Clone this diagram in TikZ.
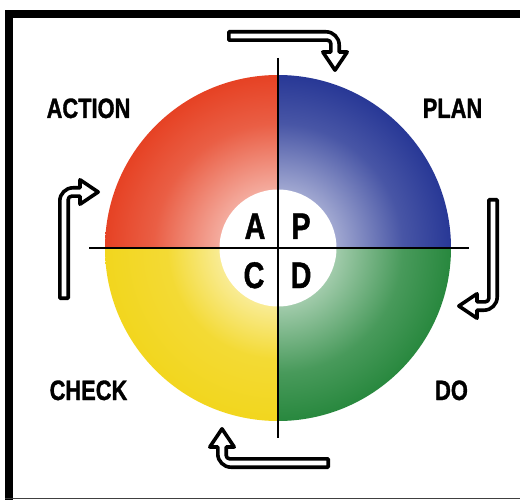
\documentclass[tikz,border=0pt]{standalone}
\usepackage{fontspec}
\newfontfamily\labfont{Liberation Sans Bold}[FakeStretch=0.78,FakeBold=1.2]
\definecolor{redc}{RGB}{230,66,36}
\definecolor{bluec}{RGB}{40,56,150}
\definecolor{greenc}{RGB}{40,136,62}
\definecolor{yellowc}{RGB}{242,214,30}
\colorlet{redA}{redc!8!white}\colorlet{redB}{redc!42!white}\colorlet{redC}{redc!85!white}
\colorlet{blueA}{bluec!8!white}\colorlet{blueB}{bluec!42!white}\colorlet{blueC}{bluec!85!white}
\colorlet{greenA}{greenc!8!white}\colorlet{greenB}{greenc!42!white}\colorlet{greenC}{greenc!85!white}
\colorlet{yellowA}{yellowc!8!white}\colorlet{yellowB}{yellowc!45!white}\colorlet{yellowC}{yellowc!90!white}
\pgfdeclareradialshading{shred}{\pgfpoint{0bp}{0bp}}{color(0bp)=(redA); color(8bp)=(redB); color(18bp)=(redC); color(25bp)=(redc); color(50bp)=(redc)}
\pgfdeclareradialshading{shblue}{\pgfpoint{0bp}{0bp}}{color(0bp)=(blueA); color(8bp)=(blueB); color(18bp)=(blueC); color(25bp)=(bluec); color(50bp)=(bluec)}
\pgfdeclareradialshading{shgreen}{\pgfpoint{0bp}{0bp}}{color(0bp)=(greenA); color(8bp)=(greenB); color(18bp)=(greenC); color(25bp)=(greenc); color(50bp)=(greenc)}
\pgfdeclareradialshading{shyellow}{\pgfpoint{0bp}{0bp}}{color(0bp)=(yellowA); color(8bp)=(yellowB); color(16bp)=(yellowC); color(25bp)=(yellowc); color(50bp)=(yellowc)}
\tikzset{
  arrowline/.style={draw=black, fill=white, line width=3.6pt, line join=round},
  pics/cyclearrow/.style={code={
    \draw[arrowline] (1.8,1.8) -- (99,1.8)
      .. controls (106.3,1.8) and (112.2,7.7) .. (112.2,15)
      -- (112.2,22) -- (120.2,22) -- (108,40.2) -- (95.8,22) -- (103.8,22) -- (103.8,13.5)
      .. controls (103.8,11.7) and (102.3,10.2) .. (100.5,10.2)
      -- (1.8,10.2) -- cycle;
  }},
  biglabel/.style={font=\labfont\fontsize{28}{30}\selectfont, anchor=base, inner sep=0pt},
  letter/.style={font=\labfont\fontsize{37}{39}\selectfont, anchor=base, inner sep=0pt},
  crossline/.style={draw=black, line width=1.3pt}
}
\begin{document}
\begin{tikzpicture}[x=1pt,y=-1pt]
\useasboundingbox (0,0) rectangle (520,500);
\fill[white] (0,0) rectangle (520,500);
% frame
\fill[black] (5,10) rectangle (520,18);
\fill[black] (5,10) rectangle (13,500);
\draw[black!75, line width=1.2pt] (5,498.5) -- (520,498.5);
% quadrants
\coordinate (c) at (278,248);
\begin{scope}
  \clip (278,248) rectangle (60,60);
  \shade[shading=shred] (c) circle (173);
\end{scope}
\begin{scope}
  \clip (278,248) rectangle (480,60);
  \shade[shading=shblue] (c) circle (173);
\end{scope}
\begin{scope}
  \clip (278,248) rectangle (60,440);
  \shade[shading=shyellow] (c) circle (173);
\end{scope}
\begin{scope}
  \clip (278,248) rectangle (480,440);
  \shade[shading=shgreen] (c) circle (173);
\end{scope}
\fill[white] (c) circle (58.5);
% cross
\coordinate (vt) at (278,58);
\coordinate (vb) at (278,438);
\coordinate (hl) at (89,248);
\coordinate (hr) at (469,248);
\draw[crossline] (vt) -- (vb);
\draw[crossline] (hl) -- (hr);
% letters
\node[letter] (A) at (255,239) {A};
\node[letter] (P) at (301,239) {P};
\node[letter] (C) at (254,288) {C};
\node[letter] (D) at (301,288) {D};
% labels
\node[biglabel] (action) at (88.5,118) {ACTION};
\node[biglabel] (plan) at (452.5,118) {PLAN};
\node[biglabel] (check) at (88.5,400) {CHECK};
\node[biglabel] (do) at (451.5,400) {DO};
% arrows
\pic (arrtop) at (227,30) {cyclearrow};
\pic[rotate=-90] (arrright) at (499,198) {cyclearrow};
\pic[rotate=180] (arrbottom) at (330,469) {cyclearrow};
\pic[rotate=90] (arrleft) at (58,300) {cyclearrow};
\end{tikzpicture}
\end{document}
